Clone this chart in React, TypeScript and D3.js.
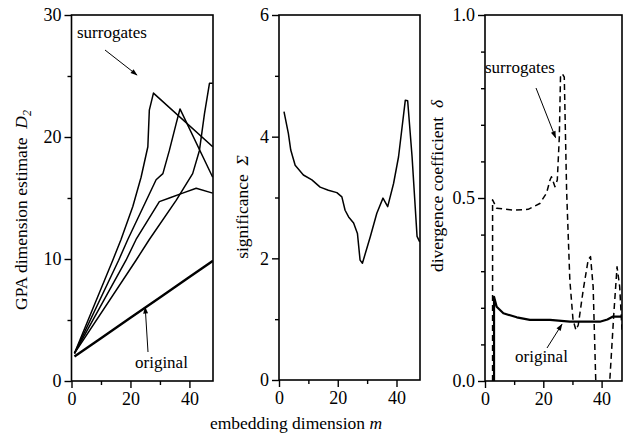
import React, { useEffect, useRef } from 'react';
import { select, scaleLinear, line, axisLeft, axisBottom, format } from 'd3';

// panel 1: GPA dimension estimate
const origM = [1, 10, 20, 30, 40, 48];
const origD = [2.0, 3.5, 5.18, 6.85, 8.52, 9.86];
const surrAM = [1, 14, 16.8, 20.8, 23.6, 25.9, 26.4, 27.8, 47.9];
const surrAD = [2.27, 9.9, 11.6, 14.3, 16.7, 19.2, 22.2, 23.6, 19.2];
const surrBM = [1, 16, 19.1, 28.7, 31, 33.2, 35.5, 36.8, 47.9];
const surrBD = [2.27, 9.9, 11.6, 16.5, 17, 18.9, 21.1, 22.3, 16.7];
const surrCM = [1, 18.5, 21.9, 29.8, 33.2, 37.7, 42.3, 47.9];
const surrCD = [2.27, 9.9, 11.6, 14.7, 15.0, 15.4, 15.8, 15.4];
const surrDM = [1, 21.9, 26.4, 35.5, 41.1, 43.4, 45.1, 46.8, 47.9];
const surrDD = [2.27, 9.9, 11.6, 14.8, 17.0, 18.9, 21.9, 24.4, 24.4];

// panel 2: significance
const sigM = [1.7, 3.2, 4.0, 5.5, 8.3, 11.2, 14, 16.8, 19.7, 21.4, 22.5, 23.7, 25.4, 26.7, 27.6, 28.4, 31.1, 33.3, 35.4, 37, 39, 40.7, 43, 43.8, 45.3, 47, 47.9];
const sigS = [4.41, 4.05, 3.78, 3.53, 3.37, 3.29, 3.17, 3.12, 3.08, 3.01, 2.79, 2.68, 2.58, 2.41, 1.97, 1.92, 2.36, 2.74, 2.99, 2.85, 3.23, 3.67, 4.6, 4.59, 3.67, 2.36, 2.27];

// panel 3: divergence coefficient
const divOrigM = [3.1, 3.1, 4, 6.3, 10.9, 15.4, 22.3, 29.1, 33.7, 39.4, 42, 43.9, 46.8, 47];
const divOrigV = [0, 0.23, 0.203, 0.185, 0.174, 0.167, 0.167, 0.162, 0.162, 0.162, 0.168, 0.176, 0.176, 0.175];
const divSurrM = [2.6, 2.6, 4, 9.7, 14.8, 18.8, 21.1, 22.3, 22.8, 24, 24.8, 25.5, 25.9, 26.5, 27.2, 28, 29.1, 30.2, 31.2, 32, 33.7, 35.4, 36.2, 37.1, 38, 39, 41.5, 42.8, 44.2, 45.3, 46.2, 47];
const divSurrV = [0, 0.495, 0.472, 0.467, 0.469, 0.485, 0.513, 0.549, 0.558, 0.531, 0.549, 0.667, 0.831, 0.84, 0.83, 0.52, 0.276, 0.167, 0.139, 0.153, 0.249, 0.331, 0.34, 0.258, 0, -0.1, -0.1, 0, 0.185, 0.312, 0.258, 0.14];

const FONT = "'Liberation Serif', 'DejaVu Serif', 'Times New Roman', serif";

function zip(ms: number[], vs: number[]) {
  return ms.map((m, i) => [m, vs[i]] as [number, number]);
}

export default function App() {
  const svgRef = useRef<SVGSVGElement>(null);

  useEffect(() => {
    const svg = select(svgRef.current);
    svg.selectAll('*').remove();

    const defs = svg.append('defs');
    defs.append('marker')
      .attr('id', 'arr')
      .attr('viewBox', '0 0 10 10')
      .attr('refX', 9).attr('refY', 5)
      .attr('markerWidth', 9).attr('markerHeight', 7)
      .attr('markerUnits', 'userSpaceOnUse')
      .attr('orient', 'auto')
      .append('path').attr('d', 'M0,1.5 L10,5 L0,8.5 Z').attr('fill', '#000');

    const panels = [
      { id: 'p1', x0: 71.5, x1: 213, y0: 381, y1: 15, xd: [0, 48], yd: [0, 30], major: [0, 10, 20, 30], minor: [5, 15, 25], fmt: format('d') },
      { id: 'p2', x0: 279, x1: 420, y0: 380, y1: 15, xd: [0, 48], yd: [0, 6], major: [0, 2, 4, 6], minor: [1, 3, 5], fmt: format('d') },
      { id: 'p3', x0: 485, x1: 622, y0: 381, y1: 15, xd: [0, 47], yd: [0, 1], major: [0, 0.5, 1], minor: [0.1, 0.2, 0.3, 0.4, 0.6, 0.7, 0.8, 0.9], fmt: format('.1f') },
    ];

    const scales = panels.map((p) => {
      const x = scaleLinear().domain(p.xd).range([p.x0, p.x1]);
      const y = scaleLinear().domain(p.yd).range([p.y0, p.y1]);

      defs.append('clipPath').attr('id', 'clip-' + p.id)
        .append('rect').attr('x', p.x0).attr('y', p.y1).attr('width', p.x1 - p.x0).attr('height', p.y0 - p.y1);

      // frame
      svg.append('rect')
        .attr('x', p.x0).attr('y', p.y1)
        .attr('width', p.x1 - p.x0).attr('height', p.y0 - p.y1)
        .attr('fill', 'none').attr('stroke', '#000').attr('stroke-width', 1.6);

      const styleAxis = (g: any) => {
        g.attr('font-family', null).style('font-family', FONT);
        g.select('.domain').remove();
        g.selectAll('line').attr('stroke', '#000').attr('stroke-width', 1.4);
        g.selectAll('text').style('font-family', FONT).attr('font-size', 18).attr('fill', '#000');
      };

      svg.append('g').attr('transform', `translate(${p.x0},0)`)
        .call(axisLeft(y).tickValues(p.major).tickSize(7).tickPadding(3).tickFormat(p.fmt as any))
        .call(styleAxis);
      svg.append('g').attr('transform', `translate(${p.x0},0)`)
        .call(axisLeft(y).tickValues(p.minor).tickSize(4).tickFormat(() => ''))
        .call(styleAxis);
      svg.append('g').attr('transform', `translate(0,${p.y0})`)
        .call(axisBottom(x).tickValues([0, 20, 40]).tickSize(7).tickPadding(4).tickFormat(format('d') as any))
        .call(styleAxis);
      svg.append('g').attr('transform', `translate(0,${p.y0})`)
        .call(axisBottom(x).tickValues([10, 30]).tickSize(4).tickFormat(() => ''))
        .call(styleAxis);

      return { x, y, p };
    });

    const draw = (k: number, data: [number, number][], width: number, dash?: string) => {
      const { x, y, p } = scales[k];
      const gen = line<[number, number]>().x((d) => x(d[0])).y((d) => y(d[1]));
      svg.append('path')
        .attr('clip-path', `url(#clip-${p.id})`)
        .attr('d', gen(data) as string)
        .attr('fill', 'none').attr('stroke', '#000')
        .attr('stroke-width', width)
        .attr('stroke-linejoin', 'round')
        .attr('stroke-dasharray', dash || null);
    };

    draw(0, zip(origM, origD), 2.4);
    draw(0, zip(surrAM, surrAD), 1.5);
    draw(0, zip(surrBM, surrBD), 1.5);
    draw(0, zip(surrCM, surrCD), 1.5);
    draw(0, zip(surrDM, surrDD), 1.5);
    draw(1, zip(sigM, sigS), 1.5);
    draw(2, zip(divSurrM, divSurrV), 1.5, '6,4');
    draw(2, zip(divOrigM, divOrigV), 2.2);

    const label = (txt: string, x: number, y: number) =>
      svg.append('text').attr('x', x).attr('y', y).style('font-family', FONT).attr('font-size', 17).text(txt);
    const arrow = (x1: number, y1: number, x2: number, y2: number) =>
      svg.append('line').attr('x1', x1).attr('y1', y1).attr('x2', x2).attr('y2', y2)
        .attr('stroke', '#000').attr('stroke-width', 1).attr('marker-end', 'url(#arr)');

    // annotations (anchored on data points)
    const s0 = scales[0], s2 = scales[2];
    label('surrogates', 77, 38);
    arrow(105, 50, 137, 75);
    label('original', 135, 368);
    arrow(148, 352, s0.x(25), s0.y(6.05));
    label('surrogates', 485, 73);
    arrow(536, 88, s2.x(24.2), s2.y(0.665));
    label('original', 515, 362);
    arrow(547, 348, s2.x(26.4), s2.y(0.155));

    // axis titles
    const yTitle = (x: number, y: number, parts: [string, string?][]) => {
      const t = svg.append('text')
        .attr('transform', `translate(${x},${y}) rotate(-90)`)
        .attr('text-anchor', 'middle')
        .style('font-family', FONT).attr('font-size', 17.5);
      parts.forEach(([s, st]) => {
        const ts = t.append('tspan').text(s);
        if (st === 'i') ts.attr('font-style', 'italic');
        if (st === 'sub') ts.attr('font-style', 'italic').attr('font-size', 12).attr('dy', 4);
      });
    };
    yTitle(27, 210, [['GPA dimension estimate\u00a0\u00a0'], ['D', 'i'], ['2', 'sub']]);
    yTitle(248, 207, [['significance\u00a0\u00a0'], ['Σ', 'i']]);
    yTitle(443, 186, [['divergence coefficient\u00a0\u00a0'], ['δ', 'i']]);

    const xt = svg.append('text').attr('x', 296).attr('y', 429)
      .attr('text-anchor', 'middle').style('font-family', FONT).attr('font-size', 17.5);
    xt.append('tspan').text('embedding dimension ');
    xt.append('tspan').attr('font-style', 'italic').text('m');
  }, []);

  return (
    <svg ref={svgRef} width={623} height={437}
      style={{ position: 'absolute', left: 0, top: 0, background: '#fff' }} />
  );
}
